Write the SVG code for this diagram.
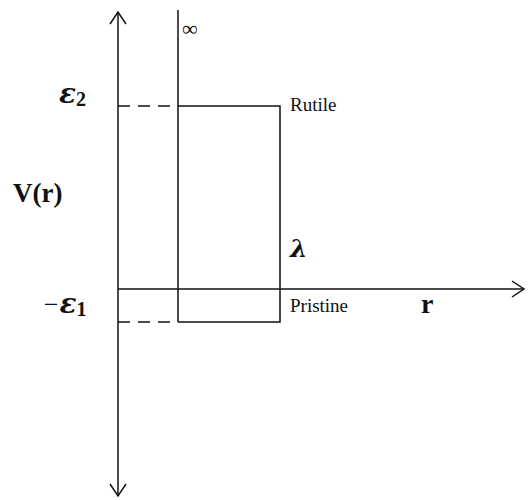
<svg xmlns="http://www.w3.org/2000/svg" width="528" height="500" viewBox="0 0 528 500">
<style>
.ln{stroke:#111;stroke-width:1.5;fill:none}
.dash{stroke:#111;stroke-width:1.5;fill:none;stroke-dasharray:12 8}
.lbl{font-family:"Liberation Serif","Times New Roman",serif;fill:#111}
.math{font-family:"DejaVu Serif","Liberation Serif",serif;font-weight:bold;font-style:italic;fill:#111}
.sub{font-family:"Liberation Serif","Times New Roman",serif;font-weight:bold;font-style:normal}
.bold{font-family:"Liberation Serif","Times New Roman",serif;font-weight:bold;fill:#111}
</style>
<defs>
<marker id="arr" viewBox="0 0 20 20" refX="18" refY="10" markerWidth="20" markerHeight="20" markerUnits="userSpaceOnUse" orient="auto">
<path d="M6,2 L18,10 L6,18" fill="none" stroke="#111" stroke-width="1.5"/>
</marker>
</defs>
<g id="connectors">
<line class="ln" x1="118" y1="250" x2="118" y2="12" marker-end="url(#arr)"/>
<line class="ln" x1="118" y1="250" x2="118" y2="496" marker-end="url(#arr)"/>
<line class="ln" x1="118" y1="289" x2="524" y2="289" marker-end="url(#arr)"/>
<line class="dash" x1="118" y1="106" x2="178" y2="106"/>
<line class="dash" x1="118" y1="322" x2="178" y2="322"/>
</g>
<g id="wall">
<line class="ln" x1="178" y1="10" x2="178" y2="322"/>
</g>
<g id="well">
<polyline class="ln" points="178,106 280,106 280,322 178,322"/>
</g>
<g id="labels">
<text class="lbl" x="182" y="36" font-size="22">∞</text>
<text class="math" x="59" y="103" font-size="28">ε<tspan class="sub" font-size="20" dy="3">2</tspan></text>
<text class="lbl" x="290" y="111" font-size="19">Rutile</text>
<text class="bold" x="13" y="202" font-size="27">V(r)</text>
<text class="math" x="290" y="257" font-size="25">λ</text>
<text class="math" x="42" y="313" font-size="28"><tspan class="lbl" font-weight="normal" font-size="26">−</tspan>ε<tspan class="sub" font-size="20" dy="3">1</tspan></text>
<text class="lbl" x="290" y="312" font-size="19">Pristine</text>
<text class="bold" x="421" y="313" font-size="28">r</text>
</g>
</svg>
